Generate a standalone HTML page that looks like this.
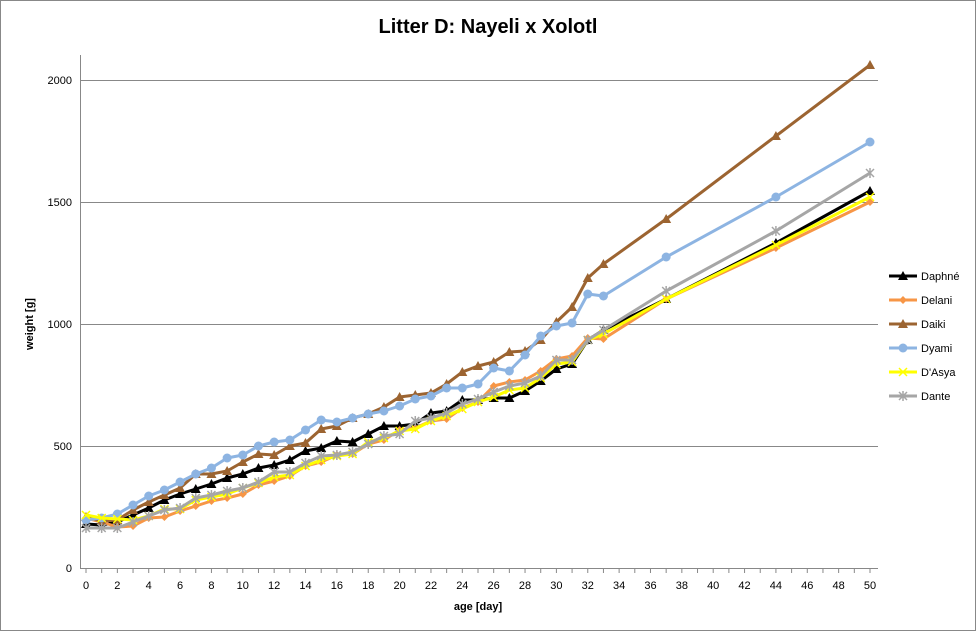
<!DOCTYPE html>
<html><head><meta charset="utf-8"><style>
html,body{margin:0;padding:0;background:#fff;}
svg{display:block;font-family:"Liberation Sans",sans-serif;}
</style></head><body>
<svg id="s" width="976" height="631" viewBox="0 0 976 631" xmlns="http://www.w3.org/2000/svg">
<rect x="0.5" y="0.5" width="975" height="630" fill="#fff" stroke="#888"/>
<text x="488" y="33" text-anchor="middle" font-size="20" font-weight="bold">Litter D: Nayeli x Xolotl</text>
<g stroke="#888" stroke-width="1">
<line x1="80" y1="80.5" x2="878" y2="80.5"/>
<line x1="80" y1="202.5" x2="878" y2="202.5"/>
<line x1="80" y1="324.5" x2="878" y2="324.5"/>
<line x1="80" y1="446.5" x2="878" y2="446.5"/>
<line x1="80" y1="568.5" x2="878" y2="568.5"/>
<line x1="80.5" y1="55" x2="80.5" y2="568"/>
</g>
<g font-size="11" text-anchor="end">
<text x="72" y="84">2000</text><text x="72" y="206">1500</text><text x="72" y="328">1000</text><text x="72" y="450">500</text><text x="72" y="572">0</text>
</g>
<g id="xt"></g>
<text transform="translate(33,324) rotate(-90)" text-anchor="middle" font-size="11" font-weight="bold">weight [g]</text>
<text x="478" y="610" text-anchor="middle" font-size="11" font-weight="bold">age [day]</text>
<g id="series"></g>
<g id="legend"></g>
</svg>
<script>
var days=[];for(var i=0;i<=33;i++)days.push(i);days.push(37,44,50);
function X(d){return 86+15.68*d;}
var S=[
["Daphné","#000","tri",[524,525,522,515,508,500,494,489,484,478,474,468,465,460,451,448,441,442,434,426,426,424,413,411,400,400,398,398,391,381,369,364,340,330,299,243,191]],
["Delani","#f79646","dia",[518,522,527,526,518,517,511,506,501,498,494,485,481,476,466,462,455,454,444,440,430,428,421,419,408,402,386,382,380,371,359,356,338,339,299,248,202]],
["Daiki","#9c6431","tri",[517,521,520,510,502,495,488,474,474,471,462,454,455,446,443,429,426,418,414,407,397,395,393,384,372,366,362,352,351,340,322,307,278,264,219,136,65]],
["Dyami","#8db4e2","cir",[520,518,514,505,496,490,482,474,468,458,455,446,442,440,430,420,422,418,414,411,406,399,396,388,388,384,368,371,355,336,326,323,294,296,257,197,142]],
["D'Asya","#ffff00","x",[515,518,519,520,516,509,509,500,497,494,488,483,477,475,466,460,456,454,442,438,431,429,421,416,409,402,397,390,388,378,364,362,340,334,299,245,197]],
["Dante","#a6a6a6","star",[528,528,528,522,516,510,508,498,495,491,488,482,472,472,463,456,455,452,444,436,434,421,418,413,404,399,392,386,383,376,360,360,340,330,291,231,173]]
];
function mk(t,x,y,c){
 if(t=="tri")return '<polygon points="'+x+','+(y-5)+' '+(x-5)+','+(y+4)+' '+(x+5)+','+(y+4)+'" fill="'+c+'"/>';
 if(t=="dia")return '<polygon points="'+x+','+(y-4)+' '+(x+4)+','+y+' '+x+','+(y+4)+' '+(x-4)+','+y+'" fill="'+c+'"/>';
 if(t=="cir")return '<circle cx="'+x+'" cy="'+y+'" r="4.5" fill="'+c+'"/>';
 if(t=="x")return '<path d="M'+(x-4)+' '+(y-4)+'L'+(x+4)+' '+(y+4)+'M'+(x-4)+' '+(y+4)+'L'+(x+4)+' '+(y-4)+'" stroke="'+c+'" stroke-width="1.5"/>';
 return '<path d="M'+(x-4)+' '+(y-4)+'L'+(x+4)+' '+(y+4)+'M'+(x-4)+' '+(y+4)+'L'+(x+4)+' '+(y-4)+'M'+x+' '+(y-5)+'L'+x+' '+(y+5)+'" stroke="'+c+'" stroke-width="1.5"/>';
}
var h='',lg='';
S.forEach(function(s,k){
 var p=s[3].map(function(y,i){return X(days[i]).toFixed(1)+','+y;}).join(' ');
 h+='<polyline points="'+p+'" fill="none" stroke="'+s[1]+'" stroke-width="3" stroke-linejoin="round"/>';
 s[3].forEach(function(y,i){h+=mk(s[2],X(days[i]),y,s[1]);});
 var ly=276+24*k;
 lg+='<line x1="889" y1="'+ly+'" x2="917" y2="'+ly+'" stroke="'+s[1]+'" stroke-width="3"/>'+mk(s[2],903,ly,s[1])+'<text x="921" y="'+(ly+4)+'" font-size="11">'+s[0]+'</text>';
});
document.getElementById('series').innerHTML=h;
document.getElementById('legend').innerHTML=lg;
var t='';
for(var d=0;d<=50;d++){var x=X(d);t+='<line x1="'+x+'" y1="568" x2="'+x+'" y2="573" stroke="#888"/>';if(d%2==0)t+='<text x="'+x+'" y="589" text-anchor="middle" font-size="11">'+d+'</text>';}
document.getElementById('xt').innerHTML=t;
</script>
</body></html>
